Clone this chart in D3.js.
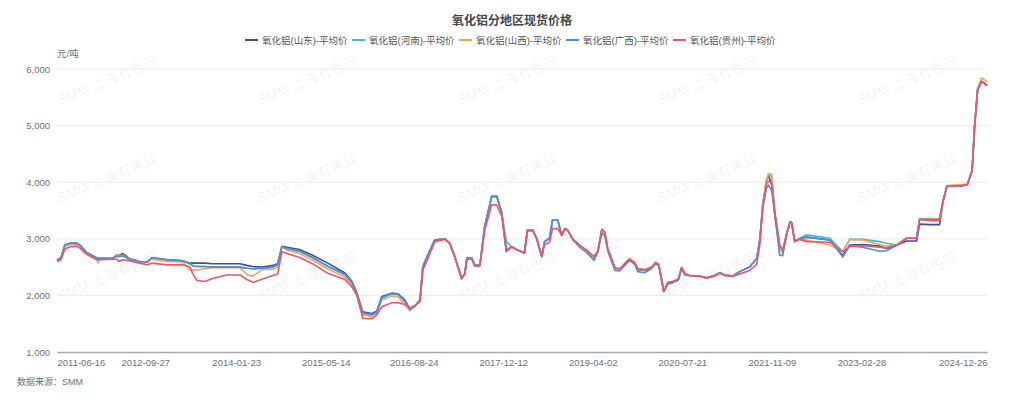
<!DOCTYPE html>
<html>
<head>
<meta charset="utf-8">
<script src="https://cdn.jsdelivr.net/npm/d3@7/dist/d3.min.js"></script>
<style>
  html, body { margin: 0; padding: 0; background: #fff; }
  svg { display: block; font-family: "Liberation Sans", "Noto Sans CJK SC", sans-serif; }
</style>
</head>
<body>
<div id="chart"></div>
<script>
const title = '氧化铝分地区现货价格';
const seriesNames = ['氧化铝(山东)-平均价', '氧化铝(河南)-平均价', '氧化铝(山西)-平均价', '氧化铝(广西)-平均价', '氧化铝(贵州)-平均价'];
const seriesColors = ['#3f4f98', '#3dbccf', '#f3a458', '#4b8ddb', '#f15469'];

const dates = [
  '2011-06-16','2011-07-07','2011-07-28','2011-08-24','2011-09-29','2011-10-17','2011-11-22','2012-01-13','2012-01-19','2012-01-30',
  '2012-04-09','2012-04-27','2012-05-10','2012-05-31','2012-07-06','2012-08-29','2012-10-08','2012-11-01','2013-01-21','2013-04-15',
  '2013-05-22','2013-06-07','2013-06-28','2013-08-09','2013-09-20','2013-12-04','2014-02-12','2014-03-21','2014-04-22','2014-06-13',
  '2014-08-06','2014-09-01','2014-09-23','2014-10-20','2014-12-26','2015-03-02','2015-05-25','2015-08-24','2015-09-30','2015-10-26',
  '2015-11-27','2016-01-14','2016-02-09','2016-03-07','2016-04-29','2016-05-31','2016-07-07','2016-08-03','2016-08-29','2016-09-26',
  '2016-10-11','2016-11-07','2016-12-14','2017-02-06','2017-03-03','2017-03-30','2017-05-05','2017-05-22','2017-06-02','2017-06-28',
  '2017-07-14','2017-08-10','2017-09-05','2017-10-12','2017-11-08','2017-12-04','2017-12-29','2018-01-26','2018-02-27','2018-04-04',
  '2018-04-20','2018-05-18','2018-06-08','2018-07-05','2018-07-20','2018-08-16','2018-08-31','2018-09-28','2018-10-19','2018-11-05',
  '2018-11-20','2018-12-17','2019-01-23','2019-03-01','2019-04-08','2019-04-29','2019-05-20','2019-06-05','2019-06-21','2019-07-29',
  '2019-08-23','2019-09-30','2019-10-16','2019-11-11','2019-11-27','2020-01-03','2020-02-10','2020-03-02','2020-03-18','2020-04-13',
  '2020-05-05','2020-06-01','2020-06-29','2020-07-17','2020-08-03','2020-08-28','2020-10-22','2020-11-27','2020-12-30','2021-02-05',
  '2021-03-03','2021-04-15','2021-05-21','2021-07-14','2021-08-20','2021-09-06','2021-09-22','2021-10-12','2021-10-22','2021-11-08',
  '2021-11-24','2021-12-20','2022-01-05','2022-01-27','2022-02-14','2022-02-22','2022-03-10','2022-04-06','2022-05-13','2022-09-13',
  '2022-11-21','2022-12-27','2023-03-06','2023-06-05','2023-07-12','2023-09-04','2023-10-26','2023-12-18','2024-01-03','2024-02-26',
  '2024-04-18','2024-05-06','2024-05-27','2024-08-19','2024-09-13','2024-10-08','2024-10-21','2024-11-06','2024-11-27','2024-12-13',
  '2024-12-26'
];

const shandong = [
  2620,2670,2890,2920,2920,2880,2750,2660,2660,2650, 2660,2710,2710,2740,2650,2600,2590,2660,2630,2610,
  2570,2570,2570,2570,2560,2560,2560,2530,2510,2500, 2530,2560,2870,2850,2810,2715,2570,2395,2250,2050,
  1710,1680,1720,1980,2040,2030,1920,1760,1810,1920, 2510,2715,2980,3000,2920,2680,2300,2380,2660,2660,
  2530,2530,3220,3750,3750,3470,2775,2860,2800,2760, 3155,3155,3010,2685,2950,3010,3330,3330,3060,3180,
  3150,2990,2870,2780,2630,2780,3155,3100,2810,2480, 2460,2600,2645,2570,2460,2440,2500,2580,2540,2070,
  2200,2230,2270,2480,2370,2350,2340,2310,2340,2400, 2360,2340,2420,2500,2650,2980,3630,4040,4120,3950,
  3420,2840,2760,3100,3300,3280,2950,3000,3030,2980, 2700,2890,2900,2870,2830,2890,2960,2960,3260,3250,
  3250,3660,3930,3940,3960,4210,4980,5630,5780,5750, 5710
];

const henan = [
  2620,2660,2890,2920,2925,2890,2760,2665,2660,2650, 2660,2690,2690,2700,2640,2600,2590,2670,2630,2610,
  2560,2520,2510,2510,2500,2500,2500,2480,2470,2480, 2500,2540,2860,2830,2780,2675,2515,2370,2230,2030,
  1690,1660,1700,1960,2030,2020,1900,1750,1810,1920, 2510,2715,2980,3000,2920,2680,2300,2380,2660,2660,
  2530,2530,3220,3750,3740,3470,2950,2860,2800,2750, 3155,3155,3010,2685,2950,3010,3330,3330,3060,3180,
  3150,2990,2870,2780,2650,2780,3155,3100,2810,2480, 2460,2600,2645,2570,2460,2440,2500,2580,2540,2070,
  2200,2230,2270,2480,2370,2350,2340,2310,2340,2400, 2360,2340,2420,2500,2650,2980,3630,4040,4130,4100,
  3460,2860,2760,3100,3300,3280,2950,3010,3070,3010, 2770,2990,2990,2950,2920,2890,3010,3010,3350,3360,
  3350,3660,3930,3940,3960,4210,4980,5630,5780,5740, 5700
];

const shanxi = [
  2620,2650,2870,2900,2910,2870,2750,2660,2570,2650, 2660,2720,2710,2710,2650,2600,2580,2640,2600,2590,
  2450,2450,2450,2470,2490,2490,2490,2370,2340,2460, 2460,2500,2860,2800,2740,2630,2470,2325,2200,2010,
  1660,1630,1680,1920,1990,1980,1840,1730,1810,1920, 2510,2715,2980,3000,2920,2680,2300,2380,2660,2660,
  2530,2530,3220,3750,3760,3470,2775,2840,2800,2750, 3155,3155,3010,2685,2950,3010,3330,3330,3060,3180,
  3150,2990,2870,2780,2660,2780,3155,3100,2810,2480, 2460,2600,2645,2590,2480,2460,2500,2580,2540,2070,
  2200,2230,2270,2480,2370,2350,2340,2310,2340,2400, 2360,2340,2420,2500,2650,2980,3630,4060,4150,4140,
  3460,2860,2740,3100,3300,3280,2950,2990,2980,2890, 2780,2990,2980,2900,2870,2890,3010,3010,3350,3360,
  3350,3660,3940,3960,3970,4230,5000,5660,5840,5810, 5770
];

const guangxi = [
  2620,2660,2890,2920,2920,2880,2750,2660,2660,2650, 2660,2690,2690,2700,2640,2600,2590,2670,2630,2610,
  2560,2520,2510,2510,2500,2500,2500,2480,2470,2480, 2500,2540,2860,2830,2780,2675,2515,2370,2230,2030,
  1690,1660,1700,1960,2030,2020,1900,1750,1810,1920, 2510,2715,2980,3000,2920,2680,2300,2380,2660,2660,
  2530,2530,3220,3750,3750,3470,2775,2860,2800,2750, 3155,3155,3010,2685,2950,3010,3330,3330,3060,3180,
  3150,2990,2850,2760,2620,2780,3100,3050,2780,2440, 2430,2570,2620,2550,2420,2400,2480,2560,2520,2070,
  2200,2230,2270,2480,2370,2350,2340,2310,2340,2400, 2360,2340,2420,2500,2650,2980,3550,3900,3950,3850,
  3460,2710,2700,3080,3300,3280,2950,3000,3030,2980, 2680,2880,2850,2780,2790,2890,3010,3010,3350,3340,
  3340,3660,3930,3940,3960,4210,4980,5630,5780,5740, 5700
];

const guizhou = [
  2600,2630,2820,2860,2870,2830,2720,2630,2630,2630, 2640,2640,2600,2630,2610,2570,2540,2570,2540,2540,
  2500,2380,2265,2245,2300,2360,2360,2280,2230,2290, 2350,2380,2770,2740,2670,2565,2390,2280,2150,2000,
  1595,1590,1650,1800,1870,1870,1840,1780,1820,1890, 2450,2650,2950,2990,2920,2680,2300,2380,2640,2640,
  2520,2520,3150,3600,3600,3400,2800,2860,2800,2750, 3140,3140,3000,2685,2900,2940,3180,3180,3060,3180,
  3150,2990,2890,2800,2690,2780,3170,3120,2830,2490, 2470,2600,2640,2570,2470,2450,2500,2580,2540,2070,
  2230,2250,2290,2500,2390,2350,2340,2310,2330,2390, 2350,2340,2380,2440,2550,2900,3580,3980,4020,3980,
  3500,2900,2800,3100,3300,3280,2970,2990,2950,2940, 2770,2860,2880,2850,2840,2890,3010,3010,3340,3320,
  3320,3660,3930,3940,3960,4210,4980,5630,5780,5750, 5710
];

const yTicks = [1000, 2000, 3000, 4000, 5000, 6000];
const xTickLabels = ['2011-06-16','2012-09-27','2014-01-23','2015-05-14','2016-08-24','2017-12-12','2019-04-02','2020-07-21','2021-11-09','2023-02-28','2024-12-26'];

const width = 1024, height = 399;
const margin = { left: 57, right: 37, top: 69, bottom: 47 };
const parse = d3.timeParse('%Y-%m-%d');

const svg = d3.select('#chart').append('svg')
  .attr('width', width)
  .attr('height', height);

svg.append('rect').attr('width', width).attr('height', height).attr('fill', '#fff');

const x = d3.scaleTime()
  .domain([parse(dates[0]), parse(dates[dates.length - 1])])
  .range([margin.left, width - margin.right]);
const y = d3.scaleLinear()
  .domain([1000, 6000])
  .range([height - margin.bottom, margin.top]);

// watermark
const wm = svg.append('g').attr('class', 'watermark');
for (let r = 0; r < 3; r++) {
  for (let c = 0; c < 5; c++) {
    const wx = 60 + c * 200, wy = 105 + r * 98;
    wm.append('text')
      .attr('transform', `translate(${wx},${wy}) rotate(-22)`)
      .attr('fill', '#000')
      .attr('fill-opacity', 0.07)
      .style('font-size', '14px')
      .text('SMM 上海有色网');
  }
}

// grid
svg.append('g')
  .selectAll('line')
  .data(yTicks.slice(1))
  .enter().append('line')
  .attr('x1', margin.left).attr('x2', width - margin.right)
  .attr('y1', d => y(d)).attr('y2', d => y(d))
  .attr('stroke', '#ececec').attr('stroke-width', 1);

const yAxis = svg.append('g')
  .attr('transform', `translate(${margin.left},0)`)
  .call(d3.axisLeft(y).tickValues(yTicks).tickSize(0).tickPadding(7).tickFormat(d3.format(',')));
yAxis.select('.domain').remove();
yAxis.selectAll('text').attr('fill', '#6e7079').style('font-size', '9.5px');

const xAxis = svg.append('g')
  .attr('transform', `translate(0,${y(1000)})`)
  .call(d3.axisBottom(x).tickValues(xTickLabels.map(parse)).tickSize(0).tickPadding(7).tickFormat(d3.timeFormat('%Y-%m-%d')));
xAxis.select('.domain').attr('stroke', '#a5a8b0').attr('stroke-width', 1.5);
xAxis.selectAll('text').attr('fill', '#6e7079').style('font-size', '9.5px')
  .attr('text-anchor', (d, i) => i === 0 ? 'start' : (i === xTickLabels.length - 1 ? 'end' : 'middle'));

svg.append('text')
  .attr('x', margin.left).attr('y', 57)
  .attr('fill', '#6e7079').style('font-size', '9.5px')
  .text('元/吨');

// lines
const allSeries = [shandong, henan, shanxi, guangxi, guizhou];
const line = d3.line()
  .x((d, i) => x(parse(dates[i])))
  .y(d => y(d));

svg.append('g')
  .selectAll('path')
  .data(allSeries)
  .enter().append('path')
  .attr('fill', 'none')
  .attr('stroke', (d, i) => seriesColors[i])
  .attr('stroke-width', 1.6)
  .attr('stroke-linejoin', 'round')
  .attr('d', line);

// title
svg.append('text')
  .attr('x', width / 2).attr('y', 25)
  .attr('text-anchor', 'middle')
  .attr('fill', '#464646')
  .style('font-size', '12px')
  .style('font-weight', 'bold')
  .text(title);

// legend
const legend = svg.append('g');
const itemW = 107, legendX = 245;
const items = legend.selectAll('g')
  .data(seriesNames)
  .enter().append('g')
  .attr('transform', (d, i) => `translate(${legendX + i * itemW},40)`);
items.append('line')
  .attr('x1', 0).attr('x2', 13)
  .attr('stroke', (d, i) => seriesColors[i])
  .attr('stroke-width', 2);
items.append('text')
  .attr('x', 17).attr('y', 3.5)
  .attr('fill', '#555')
  .style('font-size', '9.5px')
  .text(d => d);

svg.append('text')
  .attr('x', 17).attr('y', 385)
  .attr('fill', '#6e7079')
  .style('font-size', '9px')
  .text('数据来源：SMM');
</script>
</body>
</html>
